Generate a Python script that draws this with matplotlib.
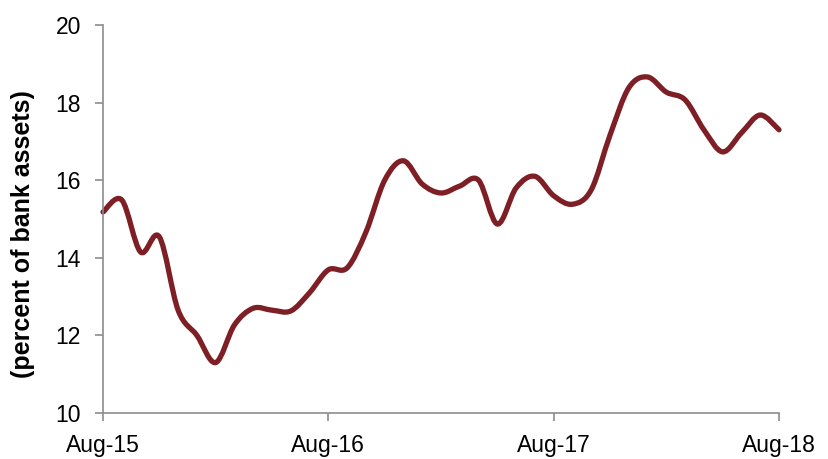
import numpy as np
import matplotlib
matplotlib.use("Agg")
from matplotlib import pyplot as plt
from matplotlib.path import Path
from matplotlib.patches import PathPatch

# monthly values, Aug-15 .. Aug-18
months = np.arange(37)
values = [15.18, 15.49, 14.15, 14.54, 12.65, 12.0, 11.3, 12.27, 12.7, 12.65,
          12.63, 13.1, 13.69, 13.74, 14.66, 16.0, 16.5, 15.9, 15.67, 15.85,
          16.0, 14.87, 15.8, 16.1, 15.6, 15.38, 15.75, 17.16, 18.38, 18.66,
          18.27, 18.07, 17.3, 16.73, 17.22, 17.68, 17.3]
tick_pos = [0, 12, 24, 36]
tick_labels = ["Aug-15", "Aug-16", "Aug-17", "Aug-18"]

plt.rcParams['font.family'] = ['Liberation Sans', 'DejaVu Sans']

fig = plt.figure(figsize=(8.29, 4.59), dpi=100)
ax = fig.add_axes([103/829, 1 - 413/459, (779 - 103)/829, (413 - 25)/459])

# smoothed line (Catmull-Rom style bezier, like a spreadsheet "smoothed line")
x = np.array(months, dtype=float)
y = np.array(values, dtype=float)
verts = [(x[0], y[0])]
codes = [Path.MOVETO]
n = len(x)
for i in range(n - 1):
    p0 = (x[i-1], y[i-1]) if i > 0 else (x[i], y[i])
    p1 = (x[i], y[i])
    p2 = (x[i+1], y[i+1])
    p3 = (x[i+2], y[i+2]) if i + 2 < n else (x[i+1], y[i+1])
    c1 = (p1[0] + (p2[0] - p0[0]) / 6, p1[1] + (p2[1] - p0[1]) / 6)
    c2 = (p2[0] - (p3[0] - p1[0]) / 6, p2[1] - (p3[1] - p1[1]) / 6)
    verts += [c1, c2, p2]
    codes += [Path.CURVE4] * 3
ax.add_patch(PathPatch(Path(verts, codes), facecolor='none', edgecolor='#7d1f25',
                       lw=3.8, capstyle='round', joinstyle='round', clip_on=False))

ax.set_xlim(0, 36)
ax.set_ylim(10, 20)
ax.set_yticks([10, 12, 14, 16, 18, 20])
ax.set_xticks(tick_pos)
ax.set_xticklabels(tick_labels)
ax.spines['top'].set_visible(False)
ax.spines['right'].set_visible(False)
for s in ['left', 'bottom']:
    ax.spines[s].set_color('#8c8c8c')
    ax.spines[s].set_linewidth(1.2)
ax.tick_params(axis='both', colors='#8c8c8c', labelcolor='black', labelsize=16.5,
               length=6, width=1.2, direction='out')
ax.tick_params(axis='y', pad=10)
ax.tick_params(axis='x', pad=9)
ax.set_ylabel("(percent of bank assets)", fontsize=18, fontweight='bold')
ax.yaxis.set_label_coords(-0.100, 0.46)

fig.savefig("out.png", dpi=100)
